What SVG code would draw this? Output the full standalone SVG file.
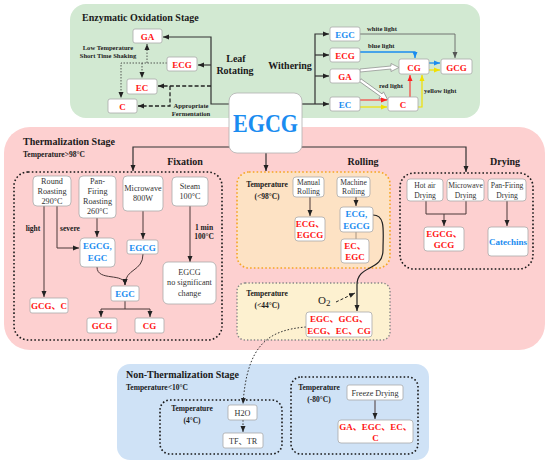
<svg xmlns="http://www.w3.org/2000/svg" width="550" height="467" viewBox="0 0 550 467">
<defs>
<style>
text{font-family:"Liberation Serif","Noto Sans CJK SC",serif;}
.bx{fill:#fff;stroke:#a9a9a9;stroke-width:0.8;}
.r{fill:#ff1414;font-weight:bold;font-size:9px;text-anchor:middle;}
.b{fill:#1a8cf0;font-weight:bold;font-size:9px;text-anchor:middle;}
.n{fill:#333;font-size:8.2px;text-anchor:middle;}
.d{fill:#333;font-size:7.6px;text-anchor:middle;}
.h{fill:#1a1a1a;font-weight:bold;font-size:10px;}
.s{fill:#1a1a1a;font-weight:bold;font-size:7.5px;}
.l{fill:#222;font-weight:bold;font-size:6.6px;}
.ln{fill:none;stroke:#333;stroke-width:1.2;}
.fx{fill:none;stroke:#4a3838;stroke-width:1;}
.dot{fill:none;stroke:#1a1a1a;stroke-width:1.6;stroke-dasharray:1.6,2.2;}
</style>
<marker id="a" markerUnits="userSpaceOnUse" markerWidth="6" markerHeight="6" refX="6" refY="3" orient="auto"><path d="M0,0.5 L6,3 L0,5.5 z" fill="#222"/></marker>
<marker id="ar" markerUnits="userSpaceOnUse" markerWidth="6" markerHeight="6" refX="6" refY="3" orient="auto"><path d="M0,0.5 L6,3 L0,5.5 z" fill="#ff2020"/></marker>
<marker id="ay" markerUnits="userSpaceOnUse" markerWidth="6" markerHeight="6" refX="6" refY="3" orient="auto"><path d="M0,0.5 L6,3 L0,5.5 z" fill="#f0e000"/></marker>
<marker id="ab" markerUnits="userSpaceOnUse" markerWidth="6" markerHeight="6" refX="6" refY="3" orient="auto"><path d="M0,0.5 L6,3 L0,5.5 z" fill="#1a8cf0"/></marker>
<marker id="ag" markerUnits="userSpaceOnUse" markerWidth="6" markerHeight="6" refX="6" refY="3" orient="auto"><path d="M0,0.5 L6,3 L0,5.5 z" fill="#555"/></marker>
</defs>

<!-- stage backgrounds -->
<g id="enzymatic-stage">
<rect x="70" y="4" width="410" height="114" rx="16" fill="#d2e9d2"/>
<text class="h" x="82" y="21">Enzymatic Oxidation Stage</text>
</g>
<g id="thermal-stage">
<rect x="4" y="127" width="541" height="223" rx="26" fill="#fdd0d0"/>
<text class="h" x="23" y="145">Thermalization Stage</text>
<text class="s" x="23" y="157">Temperature&gt;98°C</text>
</g>
<g id="nonthermal-stage">
<rect x="117" y="364" width="312" height="96" rx="13" fill="#cfe2f6"/>
<text class="h" x="126" y="378">Non-Thermalization Stage</text>
<text class="s" x="126" y="390">Temperature&lt;10°C</text>
</g>

<!-- sub-regions -->
<g id="fixation-region">
<rect x="14" y="172" width="208" height="168" rx="14" class="dot"/>
<text class="h" x="185" y="165" text-anchor="middle">Fixation</text>
</g>
<g id="rolling-region">
<rect x="237" y="172" width="153" height="96" rx="12" fill="#fde2c4" stroke="#f5a623" stroke-width="1.6" stroke-dasharray="1.6,2.2"/>
<text class="h" x="363" y="165" text-anchor="middle">Rolling</text>
<text class="s" x="267" y="187" text-anchor="middle">Temperature</text>
<text class="s" x="267" y="199" text-anchor="middle">(&lt;98°C)</text>
</g>
<g id="drying-region">
<rect x="400" y="173" width="133" height="96" rx="14" class="dot"/>
<text class="h" x="505" y="165" text-anchor="middle">Drying</text>
</g>
<g id="cool-region">
<rect x="237" y="283" width="153" height="57" rx="8" fill="#fdf1d0" stroke="#888" stroke-width="1.4" stroke-dasharray="1.4,2"/>
<text class="s" x="267" y="296" text-anchor="middle">Temperature</text>
<text class="s" x="267" y="308" text-anchor="middle">(&lt;44°C)</text>
</g>
<g id="t4-region">
<rect x="160" y="400" width="122" height="54" rx="10" class="dot"/>
<text class="s" x="192" y="411" text-anchor="middle">Temperature</text>
<text class="s" x="192" y="423" text-anchor="middle">(4°C)</text>
</g>
<g id="t80-region">
<rect x="291" y="377" width="127" height="77" rx="10" class="dot"/>
<text class="s" x="319" y="390" text-anchor="middle">Temperature</text>
<text class="s" x="319" y="402" text-anchor="middle">(-80°C)</text>
</g>

<!-- connectors -->
<g id="connectors">
<path class="ln" d="M229,104 H211 V37 H163" marker-end="url(#a)"/>
<path class="ln" d="M211,65 H198" marker-end="url(#a)"/>
<path fill="none" stroke="#222" stroke-width="1.3" stroke-dasharray="4,2.2" d="M211,86 H158" marker-end="url(#a)"/>
<path fill="none" stroke="#222" stroke-width="1.3" stroke-dasharray="4,2.2" d="M170,86 V106 H138" marker-end="url(#a)"/>
<path fill="none" stroke="#333" stroke-width="0.8" stroke-dasharray="1.5,1.5" d="M167,63 H121 V98" marker-end="url(#a)"/>
<path fill="none" stroke="#333" stroke-width="0.8" stroke-dasharray="1.5,1.5" d="M147,63 V44" marker-end="url(#a)"/>
<path fill="none" stroke="#333" stroke-width="0.8" stroke-dasharray="1.5,1.5" d="M142,63 V78" marker-end="url(#a)"/>
<text class="l" x="108" y="50" text-anchor="middle">Low Temperature</text>
<text class="l" x="108" y="58" text-anchor="middle">Short Time Shaking</text>
<text class="h" x="236" y="62" text-anchor="middle" font-size="10.5">Leaf</text>
<text class="h" x="235" y="74" text-anchor="middle" font-size="10.5">Rotating</text>
<text class="l" x="191" y="108" text-anchor="middle">Appropriate</text>
<text class="l" x="191" y="116" text-anchor="middle">Fermentation</text>
<path class="ln" d="M302,104 H329" marker-end="url(#a)"/>
<path class="ln" d="M315,104 V34 H329" marker-end="url(#a)"/>
<path class="ln" d="M315,55 H329" marker-end="url(#a)"/>
<path class="ln" d="M315,76 H329" marker-end="url(#a)"/>
<text class="h" x="290" y="69" text-anchor="middle" font-size="10.5">Withering</text>
<path fill="none" stroke="#666" stroke-width="0.9" d="M360,34 H455 V58" marker-end="url(#ag)"/>
<path fill="none" stroke="#1a8cf0" stroke-width="1.3" d="M360,52 H415 V58" marker-end="url(#ab)"/>
<polygon points="360,69 391,66 391,63.5 399,67.5 391,71.5 391,69 360,72" fill="#fff" stroke="#888" stroke-width="0.7"/>
<g transform="translate(360,80) rotate(35.5)"><polygon points="0,-1.5 26,-1.5 26,-4 34,0 26,4 26,1.5 0,1.5" fill="#fff" stroke="#888" stroke-width="0.7"/></g>
<path fill="none" stroke="#ff2020" stroke-width="1" d="M360,100 H387" marker-end="url(#ar)"/>
<path fill="none" stroke="#f0e000" stroke-width="1.2" d="M360,107 H387" marker-end="url(#ay)"/>
<path fill="none" stroke="#ff2020" stroke-width="1" d="M410,97 V75" marker-end="url(#ar)"/>
<path fill="none" stroke="#f0e000" stroke-width="1.2" d="M418,107 H422 V75" marker-end="url(#ay)"/>
<path fill="none" stroke="#1a8cf0" stroke-width="1.3" d="M429,63 H440" marker-end="url(#ab)"/>
<path fill="none" stroke="#f0e000" stroke-width="1.2" d="M429,70 H440" marker-end="url(#ay)"/>
<text class="l" x="367" y="31">white light</text>
<text class="l" x="368" y="48">blue light</text>
<text class="l" x="379" y="88">red light</text>
<text class="l" x="424" y="93">yellow light</text>
<path class="ln" d="M229,147 H133 V171" marker-end="url(#a)"/>
<path class="ln" d="M302,147 H466 V172" marker-end="url(#a)"/>
<path class="ln" d="M266,153 V171" marker-end="url(#a)"/>
<path class="fx" d="M44,206 V297" marker-end="url(#a)"/>
<path class="fx" d="M57,206 V248 H79" marker-end="url(#a)"/>
<path class="fx" d="M97,218 V237" marker-end="url(#a)"/>
<path class="fx" d="M143,211 V239" marker-end="url(#a)"/>
<path class="fx" d="M190,206 V262" marker-end="url(#a)"/>
<path class="fx" d="M97,267 C97,282 125,272 125,285" marker-end="url(#a)"/>
<path class="fx" d="M143,254 C143,272 125,268 125,285" marker-end="url(#a)"/>
<path class="fx" d="M125,301 V309 M101,309 H150"/>
<path class="fx" d="M101,309 V317" marker-end="url(#a)"/>
<path class="fx" d="M150,309 V317" marker-end="url(#a)"/>
<text class="s" x="33" y="231" text-anchor="middle">light</text>
<text class="s" x="70" y="231" text-anchor="middle">severe</text>
<text class="s" x="204" y="230" text-anchor="middle">1 min</text>
<text class="s" x="204" y="239" text-anchor="middle">100°C</text>
<path class="fx" d="M310,197 V216" marker-end="url(#a)"/>
<path class="fx" d="M356,197 V206" marker-end="url(#a)"/>
<path fill="none" stroke="#9a8a7a" stroke-width="0.9" d="M356,232 V239"/>
<path fill="none" stroke="#222" stroke-width="1.2" d="M373,215 C386,215 383,232 383,250 C383,272 357,264 357,285 V311" marker-end="url(#a)"/>
<text x="318" y="304" font-size="11" fill="#222">O<tspan font-size="9" dy="2">2</tspan></text>
<path fill="none" stroke="#222" stroke-width="1" stroke-dasharray="3,2" d="M336,302 L355,293" marker-end="url(#a)"/>
<path fill="none" stroke="#333" stroke-width="1" stroke-dasharray="1.6,1.8" d="M306,327 C268,330 247,345 243,404" marker-end="url(#a)"/>
<path class="fx" d="M426,201 V214 H466 V201"/>
<path class="fx" d="M444,214 V226" marker-end="url(#a)"/>
<path class="fx" d="M507,201 V226" marker-end="url(#a)"/>
<path fill="none" stroke="#333" stroke-width="1" stroke-dasharray="1.6,1.8" d="M243,420 V432" marker-end="url(#a)"/>
<path class="fx" d="M375,400 V419" marker-end="url(#a)"/>
</g>

<g id="n-ga1"><rect class="bx" x="133" y="29" width="29" height="14" rx="2"/><text class="r" x="147.5" y="40" font-size="10">GA</text></g>
<g id="n-ecg1"><rect class="bx" x="167" y="57" width="30" height="14" rx="2"/><text class="r" x="182" y="68" font-size="10">ECG</text></g>
<g id="n-ec1"><rect class="bx" x="127" y="79" width="30" height="15" rx="2"/><text class="r" x="142" y="90.5" font-size="10">EC</text></g>
<g id="n-c1"><rect class="bx" x="108" y="99" width="29" height="14" rx="2"/><text class="r" x="122.5" y="110" font-size="10">C</text></g>
<g id="n-egc2"><rect class="bx" x="330" y="27" width="30" height="14" rx="2"/><text class="b" x="345" y="38" font-size="10">EGC</text></g>
<g id="n-ecg2"><rect class="bx" x="330" y="48" width="30" height="14" rx="2"/><text class="r" x="345" y="59" font-size="10">ECG</text></g>
<g id="n-ga2"><rect class="bx" x="330" y="69" width="30" height="14" rx="2"/><text class="r" x="345" y="80" font-size="10">GA</text></g>
<g id="n-ec2"><rect class="bx" x="330" y="97" width="30" height="14" rx="2"/><text class="b" x="345" y="108" font-size="10">EC</text></g>
<g id="n-cg2"><rect class="bx" x="399" y="59" width="30" height="15" rx="2"/><text class="r" x="414" y="70.5" font-size="10">CG</text></g>
<g id="n-gcg2"><rect class="bx" x="441" y="59" width="31" height="15" rx="2"/><text class="r" x="456.5" y="70.5" font-size="10">GCG</text></g>
<g id="n-c2"><rect class="bx" x="388" y="97" width="30" height="14" rx="2"/><text class="r" x="403" y="108" font-size="10">C</text></g>

<g id="n-round"><rect class="bx" x="33" y="176" width="38" height="30" rx="4"/><text class="n" x="52" y="184">Round</text><text class="n" x="52" y="194">Roasting</text><text class="n" x="52" y="204">290°C</text></g>
<g id="n-pan"><rect class="bx" x="79" y="176" width="37" height="42" rx="4"/><text class="n" x="97.5" y="184">Pan-</text><text class="n" x="97.5" y="194">Firing</text><text class="n" x="97.5" y="204">Roasting</text><text class="n" x="97.5" y="214">260°C</text></g>
<g id="n-micro"><rect class="bx" x="123" y="176" width="40" height="35" rx="4"/><text class="n" x="143" y="191">Microwave</text><text class="n" x="143" y="201">800W</text></g>
<g id="n-steam"><rect class="bx" x="172" y="177" width="36" height="29" rx="4"/><text class="n" x="190" y="189">Steam</text><text class="n" x="190" y="199">100°C</text></g>
<g id="n-egcg-egc"><rect class="bx" x="80" y="238" width="35" height="29" rx="4"/><text class="b" x="97.5" y="249">EGCG,</text><text class="b" x="97.5" y="261">EGC</text></g>
<g id="n-egcg-mw"><rect class="bx" x="127" y="240" width="31" height="14" rx="2"/><text class="b" x="142.5" y="250.5">EGCG</text></g>
<g id="n-nochange"><rect class="bx" x="163" y="262" width="53" height="42" rx="5"/><text class="n" x="189.5" y="275">EGCG</text><text class="n" x="189.5" y="285">no significant</text><text class="n" x="189.5" y="296">change</text></g>
<g id="n-egc-f"><rect class="bx" x="111" y="286" width="28" height="15" rx="2"/><text class="b" x="125" y="297">EGC</text></g>
<g id="n-gcgc"><rect class="bx" x="30" y="298" width="38" height="15" rx="2"/><text class="r" x="49" y="309">GCG、C</text></g>
<g id="n-gcg-f"><rect class="bx" x="87" y="318" width="30" height="15" rx="2"/><text class="r" x="102" y="329">GCG</text></g>
<g id="n-cg-f"><rect class="bx" x="135" y="318" width="29" height="15" rx="2"/><text class="r" x="149.5" y="329">CG</text></g>

<g id="n-manual"><rect class="bx" x="293" y="177" width="31" height="20" rx="3"/><text class="d" x="308.5" y="185">Manual</text><text class="d" x="308.5" y="194">Rolling</text></g>
<g id="n-machine"><rect class="bx" x="337" y="177" width="33" height="20" rx="3"/><text class="d" x="353.5" y="185">Machine</text><text class="d" x="353.5" y="194">Rolling</text></g>
<g id="n-ecg-egcg-r"><rect class="bx" x="295" y="217" width="30" height="24" rx="3"/><text class="r" x="310" y="227">ECG、</text><text class="r" x="310" y="238">EGCG</text></g>
<g id="n-ecg-egcg-b"><rect class="bx" x="340" y="207" width="33" height="25" rx="3"/><text class="b" x="356.5" y="217">ECG,</text><text class="b" x="356.5" y="229">EGCG</text></g>
<g id="n-ec-egc"><rect class="bx" x="341" y="239" width="28" height="24" rx="3"/><text class="r" x="355" y="249">EC、</text><text class="r" x="355" y="260">EGC</text></g>
<g id="n-mix"><rect class="bx" x="306" y="312" width="66" height="25" rx="3"/><text class="r" x="339" y="322">EGC、GCG、</text><text class="r" x="339" y="334">ECG、EC、CG</text></g>

<g id="n-hotair"><rect class="bx" x="407" y="179" width="36" height="22" rx="3"/><text class="d" x="425" y="188">Hot air</text><text class="d" x="425" y="198">Drying</text></g>
<g id="n-mwdry"><rect class="bx" x="447" y="179" width="37" height="22" rx="3"/><text class="d" x="465.5" y="188">Microwave</text><text class="d" x="465.5" y="198">Drying</text></g>
<g id="n-pandry"><rect class="bx" x="488" y="179" width="38" height="22" rx="3"/><text class="d" x="507" y="188">Pan-Firing</text><text class="d" x="507" y="198">Drying</text></g>
<g id="n-egcg-gcg"><rect class="bx" x="424" y="227" width="40" height="24" rx="3"/><text class="r" x="444" y="237">EGCG、</text><text class="r" x="444" y="248">GCG</text></g>
<g id="n-catechins"><rect class="bx" x="488" y="227" width="40" height="29" rx="3"/><text class="b" x="508" y="244.5" font-size="8.5">Catechins</text></g>

<g id="n-h2o"><rect class="bx" x="228" y="405" width="29" height="15" rx="2"/><text class="n" x="242.5" y="415.5">H2O</text></g>
<g id="n-tftr"><rect class="bx" x="223" y="433" width="40" height="15" rx="2"/><text class="n" x="243" y="443.5">TF、TR</text></g>
<g id="n-freeze"><rect class="bx" x="347" y="385" width="56" height="15" rx="2"/><text class="n" x="375" y="395.5">Freeze Drying</text></g>
<g id="n-ga-egc"><rect class="bx" x="338" y="420" width="75" height="23" rx="3"/><text class="r" x="375.5" y="430">GA、EGC、EC、</text><text class="r" x="375.5" y="440.5">C</text></g>

<g id="n-egcg"><rect x="229" y="93" width="73" height="60" rx="8" fill="#fff" stroke="#b0b0b0" stroke-width="0.8"/><text x="265.5" y="132" font-size="26" font-weight="bold" fill="#1a8cf0" text-anchor="middle" textLength="65" lengthAdjust="spacingAndGlyphs">EGCG</text></g>
</svg>
